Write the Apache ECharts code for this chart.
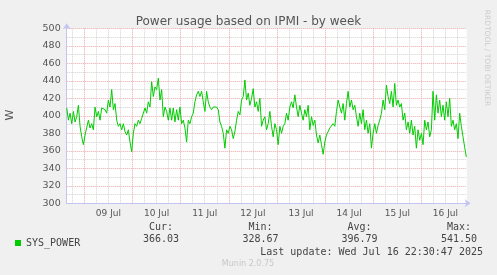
<!DOCTYPE html>
<html>
<head>
<meta charset="utf-8">
<script src="https://cdn.jsdelivr.net/npm/echarts@6/dist/echarts.min.js"></script>
<style>
html,body{margin:0;padding:0;background:#f0f0f0;}
#c{width:497px;height:275px;}
</style>
</head>
<body>
<div id="c"></div>
<script>
// ---- data ----
const title = 'Power usage based on IPMI - by week';
const seriesName = 'SYS_POWER';
// hours relative to 09 Jul 00:00
const startHour = -8.78;
const stepHour = 0.83;
const powerValues = [
  409,395,403,391,405,393,399,412,388,376,367,378,380,395,386,391,384,410,399,405,
  395,409,407,407,403,418,410,430,407,414,395,388,391,384,391,382,378,384,370,359,
  380,391,388,395,391,397,395,409,403,416,410,439,422,433,430,443,418,430,399,410,
  405,395,409,395,409,393,407,395,410,391,395,386,370,395,391,399,403,416,424,428,
  422,428,416,405,428,416,410,407,410,409,410,407,393,388,380,363,384,380,388,384,
  374,382,395,405,401,418,422,441,418,426,412,420,431,410,416,405,420,388,395,399,
  384,391,
  405,388,376,391,384,367,388,380,388,391,403,395,410,416,409,424,410,399,412,403,
  395,407,399,412,384,399,389,395,378,369,378,367,356,370,378,380,386,388,391,388,
  405,418,420,403,414,395,414,428,410,418,407,412,399,388,403,391,407,384,395,380,
  391,363,380,391,380,389,395,403,418,407,435,422,414,428,410,437,412,418,410,414,
  395,403,384,393,380,395,378,388,363,384,372,380,367,395,384,393,376,384,428,395,
  424,403,418,399,412,395,416,399,420,388,395,384,391,374,403,388,376,364,353
];
const dayLabels = ['09 Jul','10 Jul','11 Jul','12 Jul','13 Jul','14 Jul','15 Jul','16 Jul'];
const dayLabelHours = [12,36,60,84,108,132,156,180];
const midnightHours = [0,24,48,72,96,120,144,168];
const sixHourHours = [-6,6,12,18,30,36,42,54,60,66,78,84,90,102,108,114,126,132,138,150,156,162,174,180,186];
const statHeaders = ['Cur:','Min:','Avg:','Max:'];
const statValues = ['366.03','328.67','396.79','541.50'];
const lastUpdate = 'Last update: Wed Jul 16 22:30:47 2025';
const footer = 'Munin 2.0.75';
const sideText = 'RRDTOOL / TOBI OETIKER';

const xMin = -8.8, xMax = 190.6;
const data = powerValues.map((v, i) => [startHour + i * stepHour, v]);

const axisColor = '#c4c4f4';
const majorGrid = '#e9a8a8';
const minorGrid = '#d2d2d2';
const mono = 'DejaVu Sans Mono';
const sans = 'DejaVu Sans';

const chart = echarts.init(document.getElementById('c'), null, {renderer: 'canvas'});

function gridSeries(values, color) {
  return {
    type: 'line', data: [], silent: true, z: 1,
    markLine: {
      silent: true, symbol: ['none', 'none'], animation: false,
      label: {show: false},
      lineStyle: {color: color, width: 1, type: [1, 1]},
      emphasis: {disabled: true},
      data: values.map(h => ({xAxis: h}))
    }
  };
}

const statColX = [161, 260.5, 359.5, 459];
const graphics = [];
statHeaders.forEach((h, i) => {
  graphics.push({type: 'text', x: statColX[i], y: 227, style: {text: h, font: '10px ' + mono, fill: '#444', align: 'center', verticalAlign: 'middle'}});
  graphics.push({type: 'text', x: statColX[i], y: 239.5, style: {text: statValues[i], font: '10px ' + mono, fill: '#444', align: 'center', verticalAlign: 'middle'}});
});
graphics.push({type: 'text', x: 483, y: 252, style: {text: lastUpdate, font: '10px ' + mono, fill: '#444', align: 'right', verticalAlign: 'middle'}});
graphics.push({type: 'text', x: 248, y: 264, style: {text: footer, font: '8px ' + sans, fill: '#c8c8c8', align: 'center', verticalAlign: 'middle'}});
graphics.push({type: 'text', x: 487, y: 58, rotation: -Math.PI / 2, style: {text: sideText, font: '7.5px ' + sans, fill: '#cccccc', align: 'center', verticalAlign: 'middle'}});
graphics.push({type: 'text', x: 10, y: 115, rotation: Math.PI / 2, style: {text: 'W', font: '11px ' + sans, fill: '#555', align: 'center', verticalAlign: 'middle'}});

chart.setOption({
  animation: false,
  backgroundColor: '#f0f0f0',
  title: {
    text: title, left: 'center', top: 11,
    textStyle: {fontFamily: sans, fontSize: 12, fontWeight: 'normal', color: '#555'}
  },
  legend: {
    data: [seriesName], left: 10, top: 233, icon: 'rect', itemWidth: 6, itemHeight: 6, itemGap: 5,
    textStyle: {fontFamily: mono, fontSize: 10, color: '#444', padding: [0, 0, 0, 0]}
  },
  grid: {left: 66.7, top: 28.3, width: 400, height: 175, show: true, backgroundColor: '#ffffff', borderWidth: 0},
  xAxis: {
    type: 'value', min: xMin, max: xMax, position: 'bottom',
    axisLine: {show: true, onZero: false, lineStyle: {color: axisColor, width: 1}, symbol: ['none', 'arrow'], symbolSize: [6, 6], symbolOffset: [0, 4]},
    axisTick: {show: false},
    splitLine: {show: false},
    axisLabel: {
      show: true, customValues: dayLabelHours, margin: 6,
      fontFamily: sans, fontSize: 9, color: '#555',
      formatter: (v) => { const k = dayLabelHours.indexOf(Math.round(v)); return k >= 0 ? dayLabels[k] : ''; }
    }
  },
  yAxis: {
    type: 'value', min: 300, max: 500, interval: 20,
    axisLine: {show: true, onZero: false, lineStyle: {color: axisColor, width: 1}, symbol: ['none', 'arrow'], symbolSize: [6, 6], symbolOffset: [0, 5]},
    axisTick: {show: false},
    axisLabel: {fontFamily: sans, fontSize: 9.5, color: '#555', margin: 6},
    splitLine: {show: true, lineStyle: {color: majorGrid, width: 1, type: [1, 1]}},
    minorTick: {show: false, splitNumber: 2},
    minorSplitLine: {show: true, lineStyle: {color: minorGrid, width: 1, type: [1, 1]}}
  },
  series: [
    gridSeries(sixHourHours, minorGrid),
    gridSeries(midnightHours, majorGrid),
    {
      name: seriesName, type: 'line', data: data,
      showSymbol: false, symbol: 'none', clip: true,
      lineStyle: {color: '#00cc00', width: 1}, itemStyle: {color: '#00cc00'},
      z: 5
    }
  ],
  graphic: graphics
});
</script>
</body>
</html>
